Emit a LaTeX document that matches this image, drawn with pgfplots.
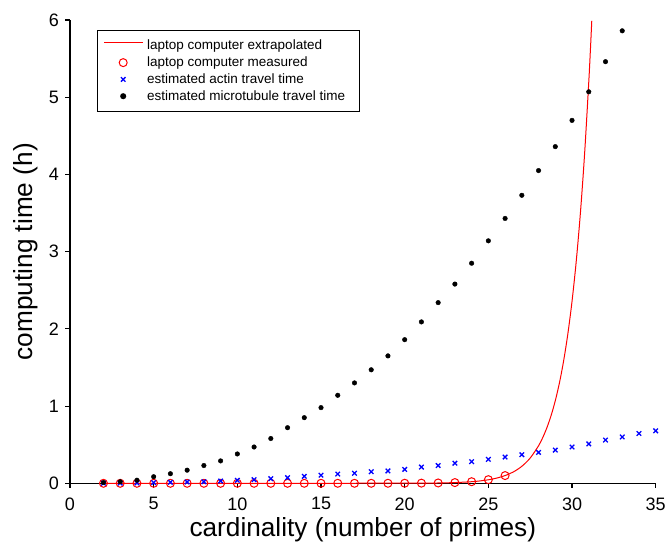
\documentclass[border=0pt]{standalone}
\usepackage{fontspec}
\setmainfont{Liberation Sans}
\usepackage{pgfplots}
\pgfplotsset{compat=1.18}
\begin{document}
\begin{tikzpicture}
\path (-70pt,-60.7pt) rectangle (597pt,483.3pt);
\begin{axis}[
  at={(0pt,0pt)}, anchor=south west,
  scale only axis,
  width=585.7pt, height=463.3pt,
  xmin=0, xmax=35, ymin=0, ymax=6,
  axis x line*=bottom, axis y line*=left,
  axis line style={line width=1.3pt},
  xtick={0,5,...,35}, ytick={0,1,...,6},
  tick align=outside, major tick length=4.5pt,
  tick style={line width=1.1pt, black},
  /pgf/number format/assume math mode=true,
  ticklabel style={font=\fontsize{18}{21}\selectfont, inner sep=0pt},
  xticklabel style={anchor=north, yshift=-9.5pt},
  yticklabel style={anchor=east, xshift=-6.5pt},
  xlabel={cardinality (number of primes)},
  ylabel={computing time (h)},
  label style={font=\fontsize{26.2}{30}\selectfont},
  xlabel style={at={(axis description cs:0.5,-0.1150)}, anchor=base},
  ylabel style={at={(axis description cs:-0.0751,0.5)}, anchor=center},
  clip=false,
  legend style={at={(0.0461,0.9784)}, anchor=north west, draw=black, line width=1.4pt,
    font=\fontsize{13.5}{16}\selectfont, row sep=1.5pt, inner xsep=6pt, inner ysep=7.5pt,
    /tikz/every odd column/.append style={column sep=2.5pt}},
  legend cell align=left,
  legend image code/.code={\draw[mark repeat=2,mark phase=2,#1] plot coordinates {(0pt,0pt) (19.5pt,0pt) (39pt,0pt)};},
]
\addplot[red, line width=1pt, smooth,
  legend image code/.code={\fill[fill=red, draw=none] (0pt,2.4pt) rectangle (39pt,3.6pt);}] coordinates {
(2,0) (20,0.0009) (22,0.0042) (23,0.0093) (24,0.0206) (24.5,0.0306) (25,0.0454) (25.5,0.0674)
(26,0.100) (26.5,0.148) (27,0.220) (27.5,0.327) (28,0.486) (28.25,0.592) (28.5,0.721)
(28.75,0.878) (29,1.070) (29.25,1.303) (29.5,1.588) (29.75,1.935) (30,2.357) (30.25,2.872)
(30.5,3.499) (30.75,4.263) (31,5.194) (31.1,5.62) (31.18,5.99)};
\addlegendentry{laptop computer extrapolated}
\addplot[only marks, red, mark=o, mark size=4pt, line width=1pt] coordinates {
(2,0) (3,0) (4,0) (5,0) (6,0) (7,0) (8,0) (9,0) (10,0) (11,0) (12,0) (13,0) (14,0)
(15,0) (16,0) (17,0) (18,0) (19,0.0003) (20,0.0009) (21,0.002) (22,0.0042) (23,0.0093)
(24,0.0206) (25,0.047) (26,0.100)};
\addlegendentry{laptop computer measured}
\addplot[only marks, blue, mark=x, mark size=3.2pt, line width=1.3pt] coordinates {
(2,0.001) (3,0.003) (4,0.005) (5,0.009) (6,0.013) (7,0.017) (8,0.02) (9,0.03) (10,0.039)
(11,0.047) (12,0.06) (13,0.073) (14,0.09) (15,0.105) (16,0.12) (17,0.13) (18,0.15)
(19,0.16) (20,0.18) (21,0.21) (22,0.23) (23,0.26) (24,0.28) (25,0.31) (26,0.34)
(27,0.37) (28,0.40) (29,0.43) (30,0.47) (31,0.51) (32,0.56) (33,0.60) (34,0.645) (35,0.68)};
\addlegendentry{estimated actin travel time}
\addplot[only marks, black, mark=*, mark size=2.3pt] coordinates {
(2,0.01) (3,0.02) (4,0.04) (5,0.085) (6,0.124) (7,0.17) (8,0.23) (9,0.29) (10,0.38)
(11,0.47) (12,0.58) (13,0.72) (14,0.85) (15,0.98) (16,1.14) (17,1.30) (18,1.47)
(19,1.65) (20,1.86) (21,2.09) (22,2.34) (23,2.58) (24,2.85) (25,3.14) (26,3.43)
(27,3.73) (28,4.05) (29,4.36) (30,4.70) (31,5.07) (32,5.46) (33,5.86)};
\addlegendentry{estimated microtubule travel time\hspace*{6.5pt}}
\end{axis}
\end{tikzpicture}
\end{document}
